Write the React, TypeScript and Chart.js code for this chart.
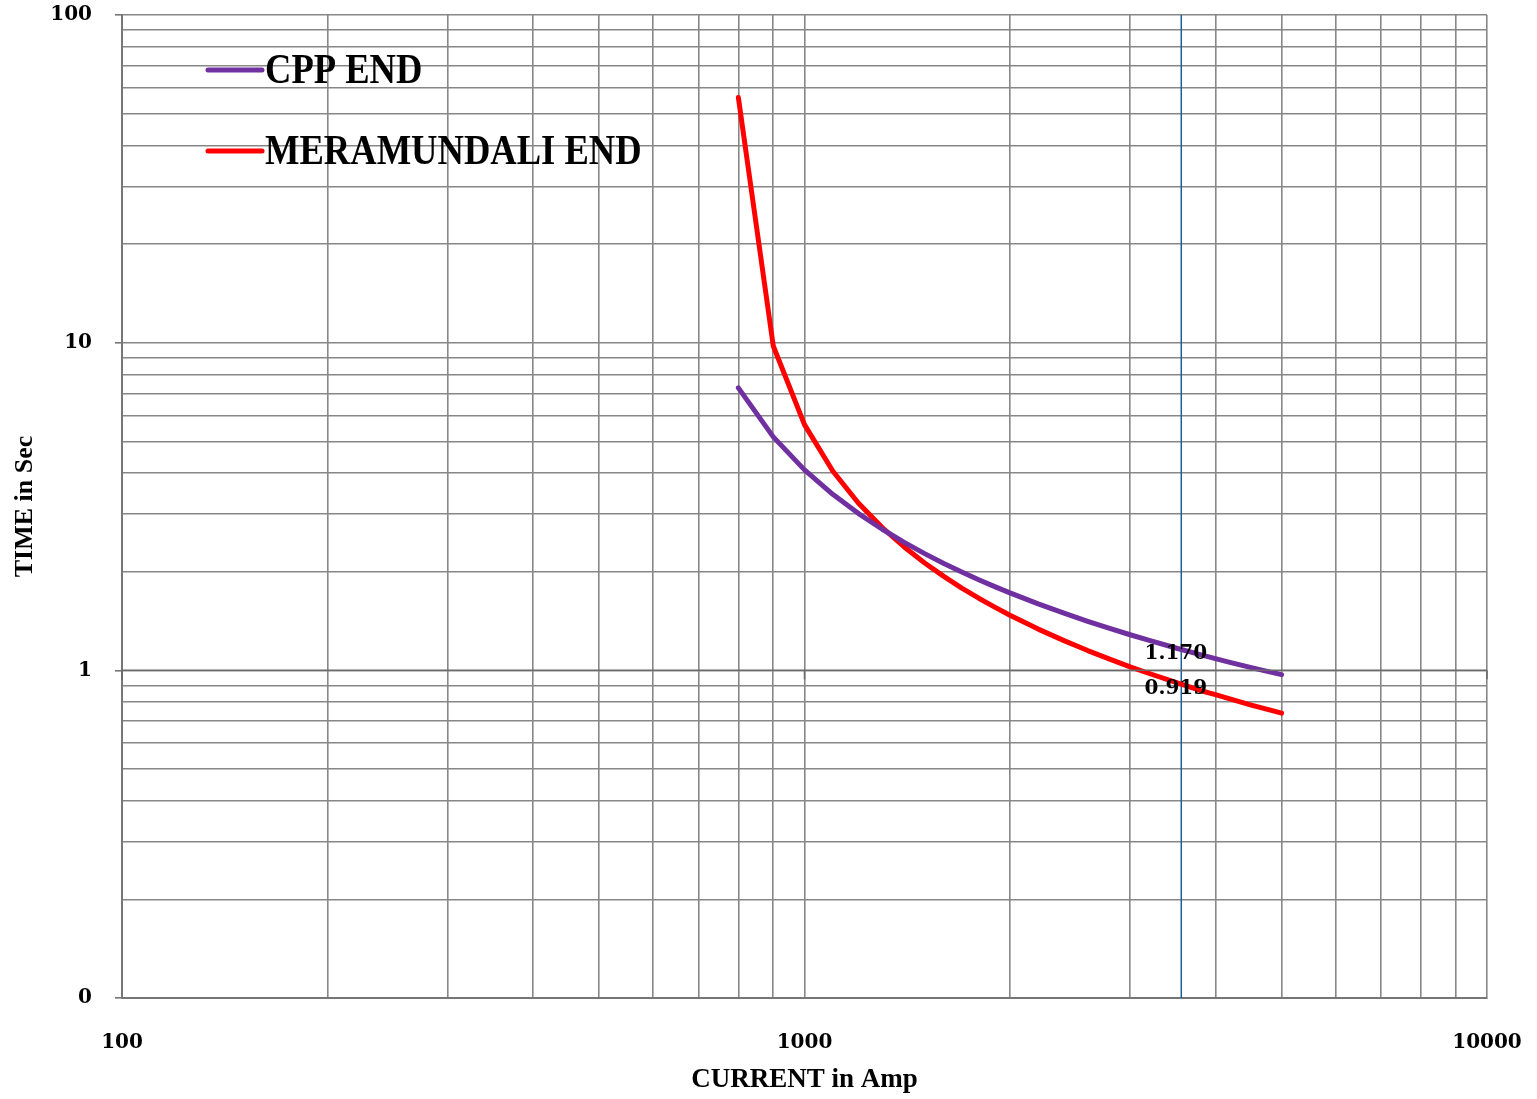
import React, { useEffect, useRef } from "react";
import { Chart, registerables } from "chart.js";

Chart.register(...registerables);

// ---------- data ----------
const currentAmp = [800, 900, 1000, 1100, 1200, 1300, 1400, 1500, 1600, 1700, 1800, 1900, 2000, 2200, 2400, 2600, 2800, 3000, 3200, 3500, 3800, 4000, 4200, 4500, 4800, 5000];
const cppEndSec = [7.28, 5.158, 4.09, 3.444, 3.009, 2.695, 2.458, 2.271, 2.12, 1.996, 1.891, 1.801, 1.723, 1.595, 1.494, 1.411, 1.342, 1.284, 1.234, 1.17, 1.117, 1.086, 1.058, 1.021, 0.989, 0.97];
const meramundaliEndSec = [56.0, 9.77, 5.621, 4.059, 3.236, 2.727, 2.38, 2.127, 1.935, 1.783, 1.66, 1.559, 1.473, 1.336, 1.232, 1.149, 1.082, 1.025, 0.978, 0.919, 0.868, 0.843, 0.818, 0.785, 0.757, 0.74];
const seriesNames = ["CPP END", "MERAMUNDALI END"];

const markerLineCurrent = 3565;
const markerLineTime = [0.1, 100];
const markerLabelCurrent = 3500;
const markerLabelValues = [1.17, 0.919];
const markerLabelTexts = ["1.170", "0.919"];

const xTickValues = [100, 200, 300, 400, 500, 600, 700, 800, 900, 1000, 2000, 3000, 4000, 5000, 6000, 7000, 8000, 9000, 10000];
const xMajorValues = [100, 1000, 10000];
const xMajorLabels = ["100", "1000", "10000"];
const yTickValues = [0.1, 0.2, 0.3, 0.4, 0.5, 0.6, 0.7, 0.8, 0.9, 1, 2, 3, 4, 5, 6, 7, 8, 9, 10, 20, 30, 40, 50, 60, 70, 80, 90, 100];
const yMajorValues = [0.1, 1, 10, 100];
const yMajorLabels = ["0", "1", "10", "100"];

const xTitle = "CURRENT in Amp";
const yTitle = "TIME in Sec";

// ---------- styles ----------
const GRID = "#878787";
const AXIS = "#767676";
const SERIF = "'Liberation Serif', 'DejaVu Serif', serif";
const NUMFONT = "'DejaVu Serif', 'Liberation Serif', serif";

function closeTo(a: number, b: number) {
  return Math.abs(a - b) < 1e-9 * Math.max(1, Math.abs(b));
}

const overlayPlugin = {
  id: "overlay",
  afterDatasetsDraw(chart: any) {
    const { ctx, chartArea, scales } = chart;
    const xs = scales.x;
    const ys = scales.y;
    ctx.save();
    // horizontal axis crossing at 1 s with tick marks
    const y1 = ys.getPixelForValue(1);
    ctx.strokeStyle = "#6a6a6a";
    ctx.lineWidth = 1.5;
    ctx.beginPath();
    ctx.moveTo(chartArea.left, y1);
    ctx.lineTo(chartArea.right, y1);
    xMajorValues.forEach((v) => {
      const px = xs.getPixelForValue(v);
      ctx.moveTo(px, y1);
      ctx.lineTo(px, y1 + 9);
    });
    ctx.stroke();

    // data labels at marker
    ctx.fillStyle = "#000";
    ctx.font = `bold 20px ${NUMFONT}`;
    ctx.textAlign = "center";
    ctx.textBaseline = "middle";
    const lx = xs.getPixelForValue(markerLabelCurrent);
    markerLabelValues.forEach((v, i) => {
      ctx.fillText(markerLabelTexts[i], lx, ys.getPixelForValue(v) + 6);
    });

    // legend inside plot area
    const rows = [chartArea.top + 55, chartArea.top + 136];
    const lineX0 = chartArea.left + 86;
    const lineX1 = chartArea.left + 140;
    seriesNames.forEach((name, i) => {
      const ds = chart.data.datasets[i];
      const y = rows[i];
      ctx.strokeStyle = ds.borderColor;
      ctx.lineWidth = 5;
      ctx.lineCap = "round";
      ctx.beginPath();
      ctx.moveTo(lineX0, y);
      ctx.lineTo(lineX1, y);
      ctx.stroke();
      ctx.save();
      ctx.translate(lineX1 + 3, y);
      ctx.scale(0.87, 1);
      ctx.fillStyle = "#000";
      ctx.font = `bold 42px ${SERIF}`;
      ctx.textAlign = "left";
      ctx.textBaseline = "middle";
      ctx.fillText(name, 0, 2);
      ctx.restore();
    });
    ctx.restore();
  },
};

export default function App() {
  const canvasRef = useRef<HTMLCanvasElement | null>(null);

  useEffect(() => {
    document.body.style.margin = "0";
    const canvas = canvasRef.current;
    if (!canvas) return;

    const chart = new Chart(canvas, {
      type: "line",
      data: {
        datasets: [
          {
            label: seriesNames[0],
            data: currentAmp.map((x, i) => ({ x, y: cppEndSec[i] })),
            borderColor: "#7030A0",
            borderWidth: 5,
            pointRadius: 0,
            borderCapStyle: "round",
            borderJoinStyle: "round",
            tension: 0,
          },
          {
            label: seriesNames[1],
            data: currentAmp.map((x, i) => ({ x, y: meramundaliEndSec[i] })),
            borderColor: "#FF0000",
            borderWidth: 5,
            pointRadius: 0,
            borderCapStyle: "round",
            borderJoinStyle: "round",
            tension: 0,
          },
          {
            label: "marker",
            data: markerLineTime.map((y) => ({ x: markerLineCurrent, y })),
            borderColor: "#1F5C99",
            borderWidth: 1.5,
            pointRadius: 0,
          },
        ],
      },
      options: {
        responsive: true,
        maintainAspectRatio: false,
        animation: false,
        layout: { padding: { top: 15, right: 50, left: 0, bottom: 0 } },
        plugins: {
          legend: { display: false },
          tooltip: { enabled: false },
        },
        scales: {
          x: {
            type: "logarithmic",
            position: "bottom",
            min: 100,
            max: 10000,
            afterBuildTicks: (scale: any) => {
              scale.ticks = xTickValues.map((v) => ({ value: v }));
            },
            afterFit: (scale: any) => {
              scale.height = 101;
              scale.paddingLeft = 0;
              scale.paddingRight = 0;
            },
            grid: {
              color: GRID,
              lineWidth: 1.6,
              drawTicks: false,
            },
            border: { display: true, color: AXIS, width: 2 },
            ticks: {
              autoSkip: false,
              maxRotation: 0,
              padding: 33,
              color: "#000",
              font: { family: NUMFONT, size: 20, weight: "bold" },
              callback: (value: any) => {
                const idx = xMajorValues.findIndex((m) => closeTo(m, Number(value)));
                return idx >= 0 ? xMajorLabels[idx] : "";
              },
            },
            title: {
              display: true,
              text: xTitle,
              color: "#000",
              font: { family: SERIF, size: 27, weight: "bold" },
              padding: { top: 0, bottom: 3 },
            },
          },
          y: {
            type: "logarithmic",
            position: "left",
            min: 0.1,
            max: 100,
            afterBuildTicks: (scale: any) => {
              scale.ticks = yTickValues.map((v) => ({ value: v }));
            },
            afterFit: (scale: any) => {
              scale.width = 122;
              scale.paddingTop = 0;
              scale.paddingBottom = 0;
            },
            grid: {
              color: GRID,
              lineWidth: 1.6,
              drawTicks: true,
              tickLength: 7,
              tickColor: (c: any) =>
                c.tick && yMajorValues.some((m) => closeTo(m, c.tick.value)) ? AXIS : "rgba(0,0,0,0)",
            },
            border: { display: true, color: AXIS, width: 2 },
            ticks: {
              autoSkip: false,
              padding: 23,
              color: "#000",
              font: { family: NUMFONT, size: 20, weight: "bold" },
              callback: (value: any) => {
                const idx = yMajorValues.findIndex((m) => closeTo(m, Number(value)));
                return idx >= 0 ? yMajorLabels[idx] : "";
              },
            },
            title: {
              display: true,
              text: yTitle,
              color: "#000",
              font: { family: SERIF, size: 26, weight: "bold" },
              padding: { top: 10, bottom: 0 },
            },
          },
        },
      } as any,
      plugins: [overlayPlugin],
    });

    return () => chart.destroy();
  }, []);

  return (
    <div style={{ width: "1537px", height: "1099px", position: "relative" }}>
      <canvas ref={canvasRef} />
    </div>
  );
}
